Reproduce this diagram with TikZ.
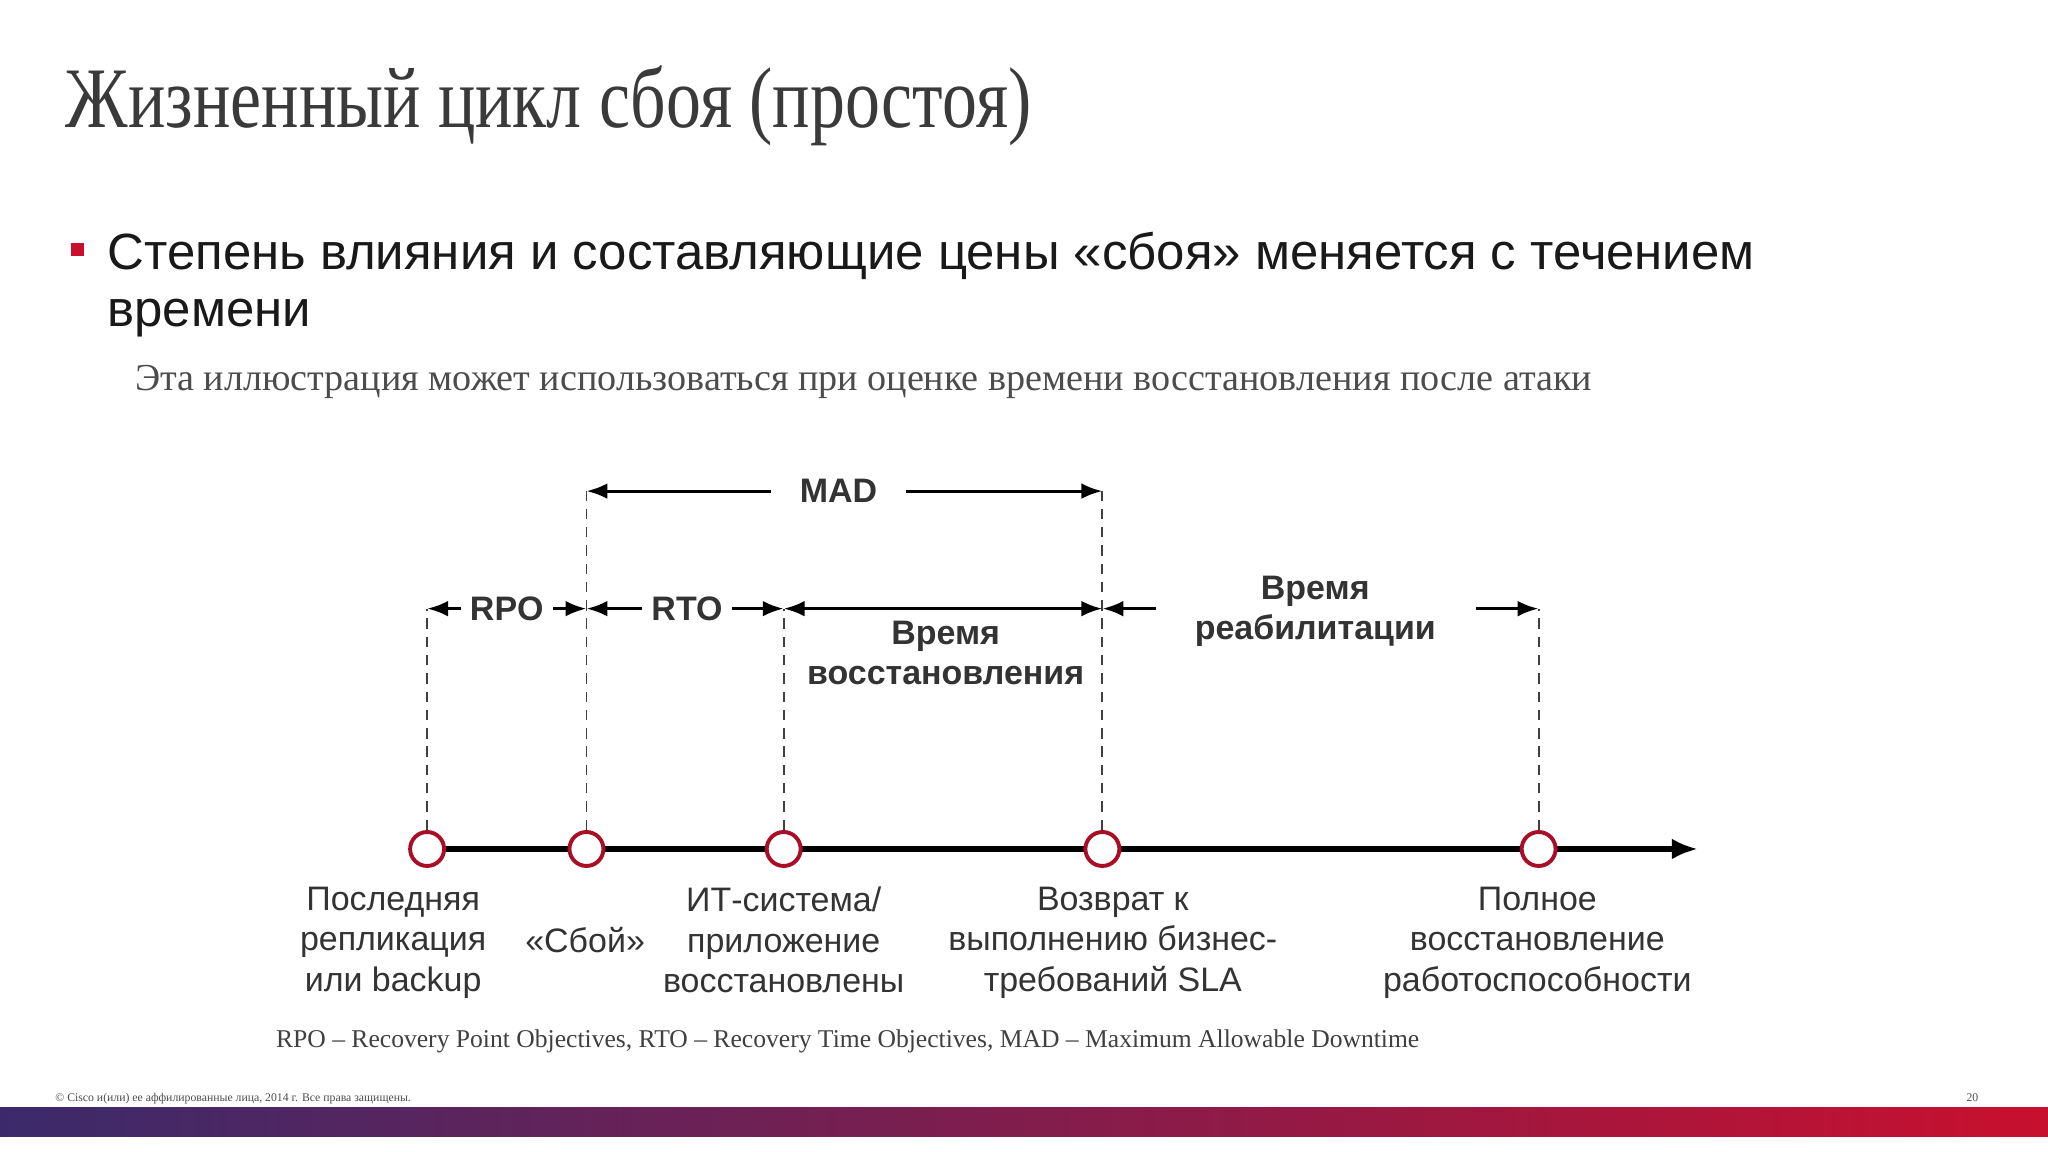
\documentclass[tikz,border=0pt]{standalone}
\usepackage{fontspec}
\setmainfont{Liberation Serif}
\newfontfamily\sans{Liberation Sans}
\usetikzlibrary{arrows.meta}
\definecolor{ired}{HTML}{C8102E}
\definecolor{ipurp}{HTML}{3B2A6B}
\definecolor{dgray}{HTML}{3A3A3A}
\begin{document}
\begin{tikzpicture}[x=0.5pt,y=-0.5pt,
  pt/.style={circle,draw=ired!85!black,fill=white,line width=1.5pt,minimum size=13pt,inner sep=0pt},
  dl/.style={dashed,line width=0.7pt,dash pattern=on 4pt off 3pt,draw=black!75},
  ar/.style={line width=1.2pt,-{Latex[length=8pt,width=6pt]}},
  lab/.style={font=\sans\fontsize{13}{15.5}\selectfont,align=center,text=black!80,anchor=north},
  bl/.style={font=\sans\bfseries\fontsize{13}{15.5}\selectfont,align=center,text=black!80}]
\useasboundingbox (0,0) rectangle (1568,882);
\fill[white] (0,0) rectangle (1568,882);
\node[anchor=base west,inner sep=0,text=dgray,font=\fontsize{33}{36}\selectfont] (title) at (50,98) {\scalebox{0.81}[1]{Жизненный цикл сбоя (простоя)}};
\fill[ired] (54,186) rectangle (64,196);
\node[anchor=base west,inner sep=0,font=\sans\fontsize{19.5}{22}\selectfont,text=black!90] (b1) at (82,206) {Степень влияния и составляющие цены «сбоя» меняется с течением};
\node[anchor=base west,inner sep=0,font=\sans\fontsize{19.5}{22}\selectfont,text=black!90] (b2) at (82,250) {времени};
\node[anchor=base west,inner sep=0,text=black!70,font=\fontsize{14.6}{16}\selectfont] (sub) at (103,299) {Эта иллюстрация может использоваться при оценке времени восстановления после атаки};
% timeline
\coordinate (s) at (327,650); \coordinate (e) at (1300,650);
\draw[line width=2pt,-{Latex[length=10pt,width=8pt]}] (s) -- (e);
\node[pt] (p1) at (327,650) {};
\node[pt] (p2) at (449,650) {};
\node[pt] (p3) at (600,650) {};
\node[pt] (p4) at (844,650) {};
\node[pt] (p5) at (1178,650) {};
\coordinate (t1) at (327,466); \coordinate (t2) at (449,376); \coordinate (t3) at (600,466);
\coordinate (t4) at (844,376); \coordinate (t5) at (1178,466);
\foreach \i in {1,...,5} \draw[dl] (p\i) -- (t\i);
% MAD
\node[bl] (mad) at (642,376) {MAD};
\draw[ar] (mad.west) ++(-15,0) -- (t2);
\draw[ar] (mad.east) ++(15,0) -- (t4);
% RPO
\node[bl] (rpo) at (388,466) {RPO};
\draw[ar] (rpo.west) -- (t1);
\draw[ar] (rpo.east) -- (449,466);
\node[bl] (rto) at (526,466) {RTO};
\draw[ar] (rto.west) -- (449,466);
\draw[ar] (rto.east) -- (t3);
\coordinate (r4) at (844,466);
\draw[line width=1.2pt,{Latex[length=8pt,width=6pt]}-{Latex[length=8pt,width=6pt]}] (t3) -- (r4);
\node[bl] (vv) at (724,500) {Время\\восстановления};
\node[bl] (vr) at (1007,468) {Время\\реабилитации};
\coordinate (a1) at (885,466); \coordinate (a2) at (1130,466);
\draw[ar] (a1) -- (r4);
\draw[ar] (a2) -- (t5);
% labels
\node[lab] (l1) at (301,672) {Последняя\\репликация\\или backup};
\node[lab] (l2) at (448,703) {«Сбой»};
\node[lab] (l3) at (600,672) {ИТ-система/\\приложение\\восстановлены};
\node[lab] (l4) at (852,672) {Возврат к\\выполнению бизнес-\\требований SLA};
\node[lab] (l5) at (1177,672) {Полное\\восстановление\\работоспособности};
\node[anchor=base,inner sep=0,text=black!75,font=\fontsize{9.8}{12}\selectfont] (fn) at (649,802) {RPO – Recovery Point Objectives, RTO – Recovery Time Objectives, MAD – Maximum Allowable Downtime};
\node[anchor=base west,inner sep=0,text=black!70,font=\fontsize{4.5}{5}\selectfont] (cp) at (42,843) {© Cisco и(или) ее аффилированные лица, 2014 г. Все права защищены.};
\node[anchor=base east,inner sep=0,text=black!70,font=\fontsize{4.5}{5}\selectfont] (pg) at (1515,843) {20};
\shade[left color=ipurp,right color=ired] (0,848) rectangle (1568,870);
\end{tikzpicture}
\end{document}
